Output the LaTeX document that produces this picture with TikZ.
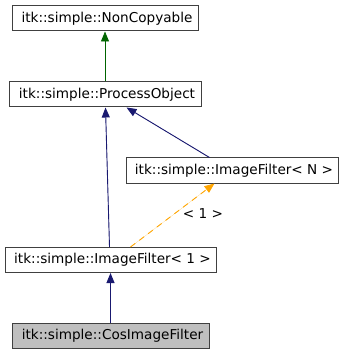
\documentclass[tikz,border=0pt]{standalone}
\usepackage{fontspec}
\setmainfont{DejaVu Sans}
\usetikzlibrary{arrows.meta,calc}
\definecolor{edgenavy}{HTML}{191970}
\definecolor{edgegreen}{HTML}{006400}
\definecolor{edgeorange}{HTML}{FFA500}
\definecolor{boxline}{HTML}{404040}
\definecolor{boxfill}{HTML}{BFBFBF}
\begin{document}
\begin{tikzpicture}[x=1pt,y=-1pt,
  labelfont/.style={font=\fontsize{13.6}{16}\selectfont},
  classbox/.style={draw=boxline,line width=1pt,fill=white,rectangle,
    minimum height=25pt,inner sep=0pt,labelfont,
    execute at begin node={\hspace*{4pt}}},
  current/.style={classbox,fill=boxfill},
  inherit/.style={line width=0.9pt,-{Triangle[length=10pt,width=8pt]}},
  tmpl/.style={inherit,draw=edgeorange,fill=edgeorange,dash pattern=on 6pt off 5pt}]
\useasboundingbox (0,0) rectangle (343,355);

\node[classbox,minimum width=186pt] (nc)  at (105,18.5)   {itk::simple::NonCopyable};
\node[classbox,minimum width=192pt] (po)  at (105,94.5)   {itk::simple::ProcessObject};
\node[classbox,minimum width=212pt] (ifn) at (232,170.5)  {itk::simple::ImageFilter< N >};
\node[classbox,minimum width=211pt] (if1) at (110.5,260)  {itk::simple::ImageFilter< 1 >};
\node[current,minimum width=197pt]  (cos) at (110.5,335.5){itk::simple::CosImageFilter};

% inheritance edges
\draw[inherit,draw=edgegreen,fill=edgegreen] (po.north) -- (nc.south);
\draw[inherit,draw=edgenavy,fill=edgenavy] ([xshift=105pt]if1.north west) -- ([xshift=97pt]po.south west);
\draw[inherit,draw=edgenavy,fill=edgenavy] ([xshift=84pt]ifn.north west) -- ([xshift=118pt]po.south west);
\draw[inherit,draw=edgenavy,fill=edgenavy] (cos.north) -- (if1.south);

% template instantiation
\draw[tmpl] ([xshift=126pt]if1.north west) -- node[pos=0.52,right=5pt,
  labelfont,text=black] {< 1 >} ([xshift=89pt]ifn.south west);
\end{tikzpicture}
\end{document}
